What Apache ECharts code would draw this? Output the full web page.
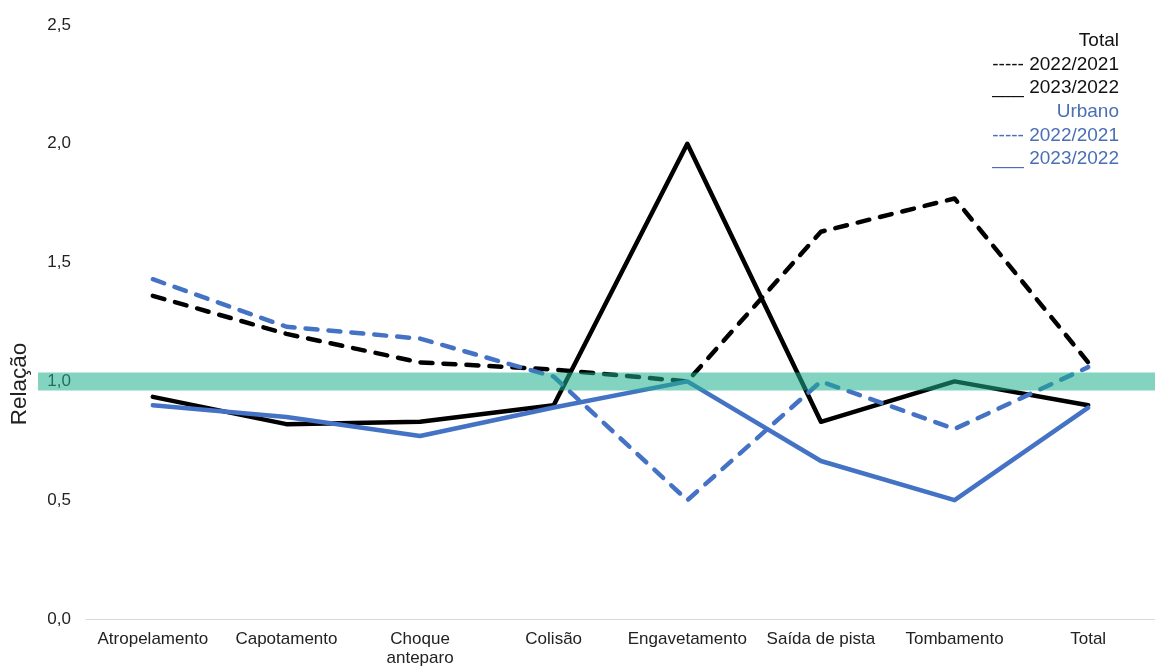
<!DOCTYPE html>
<html><head><meta charset="utf-8">
<script src="https://cdn.jsdelivr.net/npm/echarts@6/dist/echarts.min.js"></script>
<style>html,body{margin:0;padding:0;background:#fff}#c{width:1155px;height:668px}</style>
</head><body><div id="c"></div>
<script>
const categories = ['Atropelamento','Capotamento','Choque\nanteparo','Colisão','Engavetamento','Saída de pista','Tombamento','Total'];
const total2022 = [1.36, 1.20, 1.08, 1.05, 1.00, 1.63, 1.77, 1.08];
const total2023 = [0.935, 0.82, 0.83, 0.90, 2.00, 0.83, 1.00, 0.90];
const urbano2022 = [1.43, 1.23, 1.18, 1.02, 0.50, 1.00, 0.80, 1.06];
const urbano2023 = [0.90, 0.85, 0.77, 0.89, 1.00, 0.665, 0.50, 0.89];
const yTicks = ['0,0','0,5','1,0','1,5','2,0','2,5'];
const legendLines = [
  {t:'Total', c:'#111'},
  {t:'----- 2022/2021', c:'#111'},
  {t:'___ 2023/2022', c:'#111'},
  {t:'Urbano', c:'#4a6fb5'},
  {t:'----- 2022/2021', c:'#4a6fb5'},
  {t:'___ 2023/2022', c:'#4a6fb5'}
];
const FONT = 'Liberation Sans, Arial, sans-serif';
const chart = echarts.init(document.getElementById('c'));
function ser(name, data, color, dashed){
  return {name, type:'line', data, symbol:'none', z:2,
    lineStyle:{color, width:4.5, cap:'round', join:'round', type: dashed ? [12,11] : 'solid'}};
}
chart.setOption({
  animation:false,
  grid:{left:86, right:-3, top:25, bottom:40},
  xAxis:{type:'category', data:categories, boundaryGap:true,
    axisLine:{lineStyle:{color:'#d9d9d9', width:1}}, axisTick:{show:false},
    axisLabel:{color:'#222', fontFamily:FONT, fontSize:17, margin:11, lineHeight:19, interval:0}},
  yAxis:{type:'value', min:0, max:2.5, interval:0.5,
    splitLine:{show:false}, axisLine:{show:false}, axisTick:{show:false},
    axisLabel:{color:'#222', fontFamily:FONT, fontSize:17, margin:15,
      formatter:(v)=>yTicks[Math.round(v/0.5)]}},
  series:[
    ser('Total 2022/2021', total2022, '#000', true),
    ser('Total 2023/2022', total2023, '#000', false),
    ser('Urbano 2022/2021', urbano2022, '#4472C4', true),
    ser('Urbano 2023/2022', urbano2023, '#4472C4', false)
  ]
});
const y1 = chart.convertToPixel({yAxisIndex:0}, 1.0);
const graphics = [
  {type:'rect', z:50, shape:{x:38, y:y1-9, width:1155-38, height:18},
   style:{fill:'rgba(28,175,140,0.55)'}},
  {type:'text', z:60, x:20, y:384, rotation:Math.PI/2,
   style:{text:'Relação', fill:'#222', font:'22.5px '+FONT, textAlign:'center', textVerticalAlign:'middle'}}
];
legendLines.forEach((l,i)=>{
  graphics.push({type:'text', z:60, x:1119, y:41+i*23.6,
    style:{text:l.t, fill:l.c, font:'19px '+FONT, textAlign:'right', textVerticalAlign:'middle'}});
});
chart.setOption({graphic:graphics});
</script></body></html>
